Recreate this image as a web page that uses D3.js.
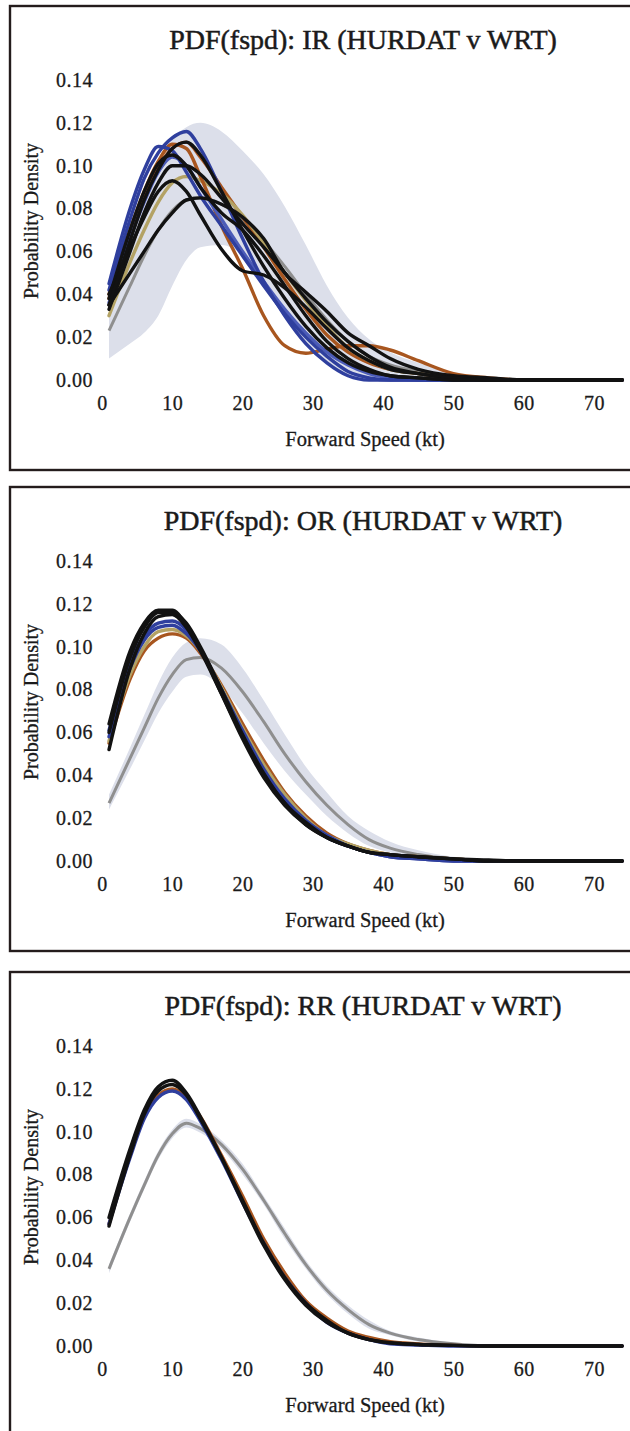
<!DOCTYPE html>
<html><head><meta charset="utf-8">
<script src="https://cdn.jsdelivr.net/npm/d3@7"></script>
<style>
html,body{margin:0;padding:0;background:#fff;}
svg{display:block;}
text{font-family:"Liberation Serif","Times New Roman",serif;fill:#1a1a1a;}
</style></head>
<body>
<script>
// ---------------- DATA ----------------
const speeds = [1, 4, 6, 8, 10, 12, 14, 17, 20, 23, 26, 29, 32, 35, 38, 41, 45, 50, 55, 60, 74];
const xTicks = [0, 10, 20, 30, 40, 50, 60, 70];
const yTicks = [0, 0.02, 0.04, 0.06, 0.08, 0.10, 0.12, 0.14];
const panelTitles = ["PDF(fspd): IR (HURDAT v WRT)", "PDF(fspd): OR (HURDAT v WRT)", "PDF(fspd): RR (HURDAT v WRT)"];
const xLabel = "Forward Speed (kt)";
const yLabel = "Probability Density";

// IR
const irBandHigh = [0.042, 0.066, 0.085, 0.100, 0.112, 0.118, 0.120, 0.116, 0.107, 0.096, 0.081, 0.063, 0.044, 0.029, 0.019, 0.013, 0.008, 0.003, 0.001, 0, 0];
const irBandLow  = [0.010, 0.017, 0.022, 0.030, 0.044, 0.056, 0.062, 0.063, 0.058, 0.045, 0.030, 0.017, 0.008, 0.002, 0, 0, 0, 0, 0, 0, 0];
const irHurdat   = [0.023, 0.044, 0.058, 0.070, 0.079, 0.084, 0.085, 0.082, 0.075, 0.065, 0.053, 0.040, 0.028, 0.018, 0.011, 0.007, 0.004, 0.002, 0.001, 0, 0];
const irBrownA   = [0.040, 0.070, 0.088, 0.102, 0.110, 0.108, 0.095, 0.072, 0.052, 0.030, 0.016, 0.0125, 0.0145, 0.016, 0.016, 0.014, 0.009, 0.003, 0.001, 0, 0];
const irBrownB   = [0.038, 0.068, 0.085, 0.099, 0.108, 0.111, 0.104, 0.090, 0.076, 0.062, 0.047, 0.033, 0.021, 0.013, 0.008, 0.005, 0.003, 0.001, 0, 0, 0];
const irOlive    = [0.030, 0.055, 0.070, 0.083, 0.092, 0.095, 0.093, 0.087, 0.077, 0.064, 0.050, 0.037, 0.025, 0.015, 0.009, 0.005, 0.003, 0.001, 0, 0, 0];
const irBlueA    = [0.042, 0.075, 0.094, 0.106, 0.113, 0.116, 0.108, 0.088, 0.066, 0.046, 0.030, 0.017, 0.008, 0.002, 0, 0, 0, 0, 0, 0, 0];
const irBlueB    = [0.045, 0.080, 0.098, 0.109, 0.107, 0.097, 0.086, 0.072, 0.058, 0.044, 0.031, 0.020, 0.011, 0.004, 0.001, 0, 0, 0, 0, 0, 0];
const irBlueC    = [0.036, 0.066, 0.083, 0.097, 0.104, 0.100, 0.090, 0.075, 0.060, 0.046, 0.033, 0.022, 0.013, 0.007, 0.003, 0.001, 0, 0, 0, 0, 0];
const irBlackA   = [0.035, 0.050, 0.060, 0.070, 0.078, 0.084, 0.085, 0.082, 0.076, 0.066, 0.050, 0.041, 0.032, 0.022, 0.016, 0.010, 0.005, 0.002, 0.001, 0, 0];
const irBlackB   = [0.040, 0.062, 0.076, 0.088, 0.093, 0.088, 0.077, 0.061, 0.051, 0.049, 0.043, 0.034, 0.024, 0.015, 0.009, 0.005, 0.003, 0.001, 0, 0, 0];
const irBlackC   = [0.038, 0.070, 0.088, 0.101, 0.105, 0.100, 0.090, 0.078, 0.070, 0.058, 0.044, 0.030, 0.018, 0.010, 0.005, 0.002, 0.001, 0, 0, 0, 0];
const irBlackD   = [0.033, 0.060, 0.078, 0.092, 0.100, 0.100, 0.096, 0.085, 0.073, 0.062, 0.050, 0.038, 0.027, 0.018, 0.011, 0.006, 0.003, 0.001, 0, 0, 0];
const irBlackE   = [0.035, 0.065, 0.084, 0.098, 0.108, 0.111, 0.105, 0.088, 0.070, 0.053, 0.038, 0.025, 0.015, 0.008, 0.004, 0.002, 0.001, 0, 0, 0, 0];

// OR
const orBandHigh = [0.031, 0.053, 0.068, 0.083, 0.095, 0.102, 0.104, 0.101, 0.090, 0.075, 0.059, 0.044, 0.032, 0.021, 0.014, 0.009, 0.005, 0.002, 0.001, 0, 0];
const orBandLow  = [0.024, 0.043, 0.056, 0.069, 0.079, 0.086, 0.087, 0.081, 0.069, 0.055, 0.042, 0.031, 0.021, 0.013, 0.007, 0.004, 0.002, 0.0005, 0, 0, 0];
const orHurdat   = [0.027, 0.048, 0.062, 0.076, 0.087, 0.094, 0.095, 0.090, 0.079, 0.065, 0.050, 0.037, 0.026, 0.017, 0.010, 0.006, 0.003, 0.001, 0, 0, 0];
const orBrown    = [0.055, 0.085, 0.098, 0.104, 0.106, 0.104, 0.097, 0.082, 0.064, 0.047, 0.032, 0.021, 0.013, 0.008, 0.005, 0.003, 0.002, 0.001, 0, 0, 0];
const orOlive    = [0.056, 0.087, 0.100, 0.107, 0.108, 0.105, 0.098, 0.081, 0.062, 0.045, 0.031, 0.020, 0.012, 0.008, 0.005, 0.003, 0.002, 0.001, 0, 0, 0];
const orBlueA    = [0.061, 0.093, 0.105, 0.111, 0.112, 0.108, 0.099, 0.080, 0.060, 0.042, 0.028, 0.018, 0.011, 0.007, 0.004, 0.002, 0.001, 0, 0, 0, 0];
const orBlueB    = [0.058, 0.090, 0.103, 0.109, 0.110, 0.106, 0.098, 0.080, 0.061, 0.043, 0.029, 0.019, 0.012, 0.007, 0.004, 0.002, 0.001, 0, 0, 0, 0];
const orBlackA   = [0.064, 0.098, 0.111, 0.117, 0.117, 0.110, 0.099, 0.078, 0.057, 0.039, 0.026, 0.017, 0.011, 0.007, 0.004, 0.003, 0.002, 0.001, 0.0005, 0, 0];
const orBlackB   = [0.052, 0.090, 0.106, 0.114, 0.115, 0.109, 0.098, 0.078, 0.058, 0.040, 0.027, 0.017, 0.011, 0.007, 0.004, 0.003, 0.002, 0.001, 0, 0, 0];
const orBlackC   = [0.060, 0.095, 0.109, 0.116, 0.116, 0.111, 0.100, 0.080, 0.059, 0.041, 0.027, 0.018, 0.011, 0.007, 0.004, 0.003, 0.002, 0.001, 0, 0, 0];

// RR
const rrBandHigh = [0.038, 0.062, 0.077, 0.091, 0.101, 0.106, 0.1035, 0.096, 0.085, 0.070, 0.055, 0.040, 0.028, 0.019, 0.012, 0.007, 0.004, 0.0015, 0.0005, 0, 0];
const rrBandLow  = [0.034, 0.058, 0.073, 0.087, 0.097, 0.102, 0.0995, 0.092, 0.080, 0.066, 0.050, 0.036, 0.024, 0.015, 0.008, 0.005, 0.002, 0.0005, 0, 0, 0];
const rrHurdat   = [0.036, 0.060, 0.075, 0.089, 0.099, 0.104, 0.1015, 0.094, 0.0825, 0.068, 0.0525, 0.038, 0.026, 0.017, 0.010, 0.006, 0.003, 0.001, 0, 0, 0];
const rrBrown    = [0.057, 0.089, 0.107, 0.117, 0.120, 0.116, 0.107, 0.089, 0.070, 0.050, 0.034, 0.021, 0.013, 0.007, 0.004, 0.002, 0.001, 0.0003, 0, 0, 0];
const rrBlue     = [0.057, 0.088, 0.106, 0.116, 0.119, 0.115, 0.105, 0.087, 0.067, 0.048, 0.032, 0.020, 0.011, 0.006, 0.003, 0.001, 0.0005, 0, 0, 0, 0];
const rrBlackA   = [0.060, 0.092, 0.110, 0.121, 0.124, 0.118, 0.107, 0.088, 0.067, 0.047, 0.031, 0.019, 0.011, 0.006, 0.003, 0.0015, 0.0007, 0.0003, 0, 0, 0];
const rrBlackB   = [0.056, 0.089, 0.108, 0.119, 0.122, 0.117, 0.106, 0.088, 0.068, 0.048, 0.032, 0.020, 0.012, 0.006, 0.003, 0.0015, 0.0007, 0.0003, 0, 0, 0];

// ---------------- STYLE / LAYOUT ----------------
const C = { black: "#121212", blue: "#2f3f9e", blueL: "#4c5cb8", brown: "#a8561f", olive: "#b3a264", gray: "#8f8f8f", band: "#dcdfea" };

const panels = [
  { top: 6, title: panelTitles[0], band: [irBandLow, irBandHigh], hurdat: irHurdat,
    wrt: [[irBrownB, C.brown], [irOlive, C.olive], [irBrownA, C.brown], [irBlueC, C.blueL], [irBlueB, C.blue], [irBlueA, C.blue],
          [irBlackA, C.black], [irBlackB, C.black], [irBlackD, C.black], [irBlackC, C.black], [irBlackE, C.black]] },
  { top: 487, title: panelTitles[1], band: [orBandLow, orBandHigh], hurdat: orHurdat,
    wrt: [[orBrown, C.brown], [orOlive, C.olive], [orBlueB, C.blue], [orBlueA, C.blue], [orBlackB, C.black], [orBlackC, C.black], [orBlackA, C.black]] },
  { top: 972, title: panelTitles[2], band: [rrBandLow, rrBandHigh], hurdat: rrHurdat,
    wrt: [[rrBrown, C.brown], [rrBlue, C.blue], [rrBlackB, C.black], [rrBlackA, C.black]] }
];

const W = 630, H = 1431;
const svg = d3.select("body").append("svg").attr("width", W).attr("height", H);

const x = d3.scaleLinear().domain([0, 70]).range([102, 594]);
const y = d3.scaleLinear().domain([0, 0.14]).range([374, 74]);

const line = d3.line().x((d, i) => x(speeds[i])).y(d => y(d)).curve(d3.curveMonotoneX);

panels.forEach(p => {
  const g = svg.append("g").attr("transform", `translate(0,${p.top})`);

  g.append("rect").attr("x", 10).attr("y", 0).attr("width", 660).attr("height", 464)
    .attr("fill", "none").attr("stroke", "#241c1c").attr("stroke-width", 2.4);

  g.append("text").attr("x", 363).attr("y", 43).attr("text-anchor", "middle")
    .style("font-size", "28px").style("stroke", "#1a1a1a").style("stroke-width", "0.5px")
    .text(p.title);

  // band
  const area = d3.area().x((d, i) => x(speeds[i])).y0((d, i) => y(p.band[0][i])).y1(d => y(d)).curve(d3.curveMonotoneX);
  g.append("path").datum(p.band[1]).attr("d", area).attr("fill", C.band);

  // HURDAT
  g.append("path").datum(p.hurdat).attr("d", line).attr("fill", "none")
    .attr("stroke", C.gray).attr("stroke-width", 3).attr("stroke-linejoin", "round");

  // WRT
  p.wrt.forEach(([vals, col]) => {
    g.append("path").datum(vals).attr("d", line).attr("fill", "none")
      .attr("stroke", col).attr("stroke-width", 3.4).attr("stroke-linejoin", "round").attr("stroke-linecap", "round");
  });

  // axes
  const ya = g.append("g").attr("transform", `translate(${x(0)},0)`)
    .call(d3.axisLeft(y).tickValues(yTicks).tickSize(0).tickPadding(9).tickFormat(d3.format(".2f")));
  ya.select(".domain").remove();
  ya.selectAll("text").style("font-size", "20px").style("font-family", "Liberation Serif, serif")
    .style("letter-spacing", "0.5px").style("stroke", "#1a1a1a").style("stroke-width", "0.3px").attr("fill", "#1a1a1a");

  const xa = g.append("g").attr("transform", `translate(0,${y(0)})`)
    .call(d3.axisBottom(x).tickValues(xTicks).tickSize(0).tickPadding(16).tickFormat(d3.format("d")));
  xa.select(".domain").remove();
  xa.selectAll("text").style("font-size", "20px").style("font-family", "Liberation Serif, serif")
    .style("letter-spacing", "0.5px").style("stroke", "#1a1a1a").style("stroke-width", "0.3px").attr("fill", "#1a1a1a");

  g.append("text").attr("x", 365).attr("y", 440).attr("text-anchor", "middle")
    .style("font-size", "20.5px").style("stroke", "#1a1a1a").style("stroke-width", "0.3px").text(xLabel);

  g.append("text").attr("transform", "translate(38,215) rotate(-90)").attr("text-anchor", "middle")
    .style("font-size", "20px").style("stroke", "#1a1a1a").style("stroke-width", "0.3px").text(yLabel);
});
</script>
</body></html>
